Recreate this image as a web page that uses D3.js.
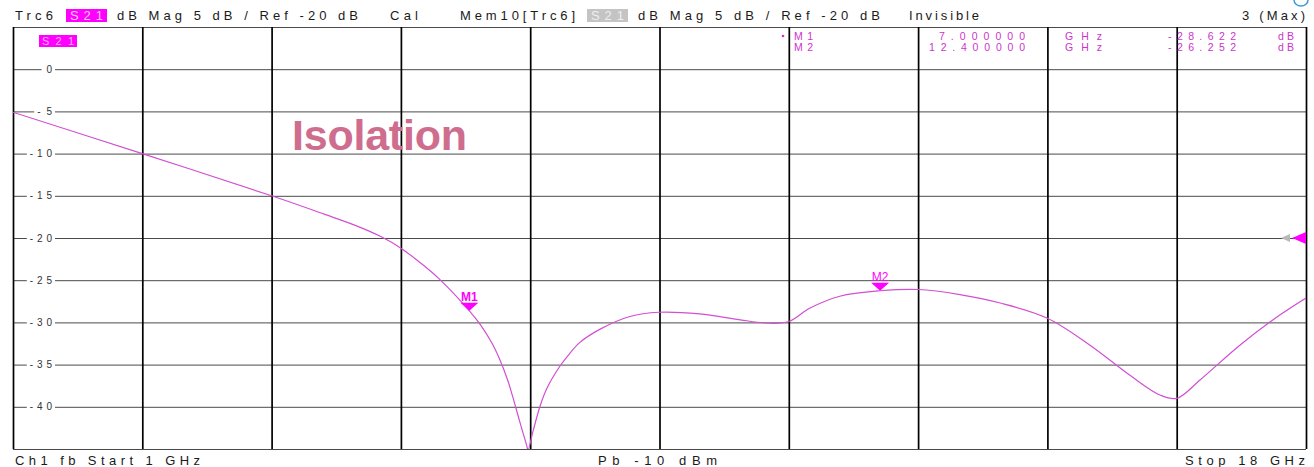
<!DOCTYPE html>
<html>
<head>
<meta charset="utf-8">
<script src="https://cdn.jsdelivr.net/npm/d3@7"></script>
<style>
  body { margin: 0; background: #fff; }
  svg { display: block; font-family: "Liberation Sans", Arial, sans-serif; }
</style>
</head>
<body>
<script>
// trace S21, frequency in GHz, magnitude in dB
const freqs = [1.0, 2.7, 4.4, 5.1, 5.5, 5.83, 6.1, 6.35, 6.61, 7.0, 7.14, 7.3, 7.4, 7.51, 7.57, 7.67, 7.76, 7.77,
  7.84, 7.93, 8.02, 8.19, 8.3, 8.45, 8.72, 9.11, 9.49, 10.03, 10.56, 10.95, 11.2, 11.48, 11.87, 12.4,
  12.9, 13.45, 13.98, 14.6, 15.16, 15.69, 16.08, 16.3, 16.61, 17.13, 17.66, 18.0];
const mags = [-5.1, -10.0, -15.0, -17.2, -18.5, -19.8, -21.2, -22.9, -24.9, -28.622, -30.2, -32.5, -34.4, -37.0, -38.8, -42.0, -44.8, -45.2,
  -42.8, -39.9, -37.8, -35.2, -33.9, -32.4, -30.8, -29.3, -28.8, -29.0, -29.7, -30.1, -29.9, -28.3, -26.9, -26.252,
  -26.1, -26.7, -27.7, -29.5, -32.7, -36.3, -38.6, -39.0, -36.8, -32.7, -29.1, -27.1];
const yTicks = [0, -5, -10, -15, -20, -25, -30, -35, -40];
const markerNames = ["M1", "M2"];
const markerFreq = [7.0, 12.4];
const markerMag = [-28.622, -26.252];
const refLevel = -20;

const W = 1314, H = 467;
const x = d3.scaleLinear().domain([1, 18]).range([13, 1306]);
const y = d3.scaleLinear().domain([-45, 5]).range([449, 27]);

const svg = d3.select("body").append("svg").attr("width", W).attr("height", H);

let txt = (g, px, py, s, len, opts = {}) => {
  const t = g.append("text").attr("x", px).attr("y", py).text(s)
    .attr("font-size", opts.size || 13).attr("fill", opts.fill || "#1a1a1a")
    .attr("text-anchor", opts.anchor || "start");
  if (len) t.attr("textLength", len).attr("lengthAdjust", "spacing");
  if (opts.weight) t.attr("font-weight", opts.weight);
  return t;
};

// header line
const head = svg.append("g");
txt(head, 15, 20, "Trc6", 38);
head.append("rect").attr("x", 66).attr("y", 9).attr("width", 41).attr("height", 13).attr("fill", "#ff00ff");
txt(head, 70, 20, "S21", 33, {fill: "#ffc8ff"});
txt(head, 117, 20, "dB Mag  5 dB /  Ref -20 dB", 241);
txt(head, 390, 20, "Cal", 28);
txt(head, 460, 20, "Mem10[Trc6]", 115);
head.append("rect").attr("x", 587).attr("y", 9).attr("width", 41).attr("height", 13).attr("fill", "#c4c4c4");
txt(head, 591, 20, "S21", 33, {fill: "#eeeeee"});
txt(head, 638, 20, "dB Mag  5 dB /  Ref -20 dB", 242);
txt(head, 909, 20, "Invisible", 70);
txt(head, 1242, 20, "3 (Max)", 63);
// little blue icon in the corner
svg.append("path").attr("d", "M1294,0 A7,6 0 0 0 1308,0").attr("fill", "none").attr("stroke", "#3a9ad9").attr("stroke-width", 1.5);

// grid
const grid = svg.append("g");
grid.append("g")
  .attr("transform", `translate(${x.range()[0]},0)`)
  .call(d3.axisLeft(y).tickValues(d3.range(-45, 6, 5)).tickSize(-(x.range()[1] - x.range()[0])).tickFormat(""))
  .call(g => g.select(".domain").remove())
  .call(g => g.selectAll("line").attr("stroke", "#4a4a4a").attr("stroke-width", 1));
grid.append("g")
  .attr("transform", `translate(0,${y.range()[0]})`)
  .call(d3.axisBottom(x).tickValues(d3.range(0, 11).map(i => 1 + i * 1.7)).tickSize(-(y.range()[0] - y.range()[1])).tickFormat(""))
  .call(g => g.select(".domain").remove())
  .call(g => g.selectAll("line").attr("stroke", "#000").attr("stroke-width", 1.7));

// y labels with white background breaking the grid line
const lab = svg.append("g");
yTicks.forEach(v => {
  const s = String(v);
  const w = s.length * 7.4;
  lab.append("rect").attr("x", 52 - w - 3).attr("y", y(v) - 3).attr("width", w + 6).attr("height", 6).attr("fill", "#fff");
  txt(lab, 52, y(v) + 3.5, s, w, {size: 10, anchor: "end", fill: "#333"});
});

// S21 label in plot
svg.append("rect").attr("x", 39).attr("y", 35).attr("width", 38).attr("height", 12).attr("fill", "#ff00ff");
txt(svg, 42, 45, "S21", 32, {size: 11, fill: "#ffb0ff"});

// Isolation title
txt(svg, 292, 150, "Isolation", 175, {size: 43, weight: "bold", fill: "#cf6d8e"});

// trace
svg.append("clipPath").attr("id", "clip").append("rect")
  .attr("x", 13).attr("y", 27).attr("width", 1293).attr("height", 422);
const line = d3.line().x((d, i) => x(freqs[i])).y(d => y(d)).curve(d3.curveCatmullRom.alpha(0.5));
svg.append("path").datum(mags).attr("d", line).attr("clip-path", "url(#clip)")
  .attr("fill", "none").attr("stroke", "#d24fd2").attr("stroke-width", 1.2);

// markers
markerNames.forEach((m, i) => {
  const mx = x(markerFreq[i]), my = y(markerMag[i]);
  svg.append("path").attr("d", `M${mx - 9},${my - 8} L${mx + 9},${my - 8} L${mx},${my} Z`).attr("fill", "#ff00ff");
  txt(svg, mx, my - 10, m, null, {size: 12, anchor: "middle", fill: "#ff00ff", weight: i === 0 ? "bold" : null});
});

// marker table
const tb = svg.append("g");
tb.append("circle").attr("cx", 783).attr("cy", 36).attr("r", 1.3).attr("fill", "#cc33cc");
markerNames.forEach((m, i) => {
  const by = 39.5 + i * 11;
  const c = {size: 10.5, fill: "#cc33cc"};
  txt(tb, 794, by, m, 19, c);
  txt(tb, 1025, by, markerFreq[i].toFixed(6), i === 0 ? 86 : 96, Object.assign({anchor: "end"}, c));
  txt(tb, 1065, by, "GHz", 37, c);
  txt(tb, 1236, by, markerMag[i].toFixed(3), 68, Object.assign({anchor: "end"}, c));
  txt(tb, 1278, by, "dB", 16, c);
});

// reference level arrows
const ry = y(refLevel);
svg.append("path").attr("d", `M1306,${ry - 6} L1306,${ry + 6} L1292,${ry} Z`).attr("fill", "#ff00ff");
svg.append("path").attr("d", `M1290,${ry - 4} L1290,${ry + 4} L1281,${ry} Z`).attr("fill", "#b8b8b8");

// footer
const foot = svg.append("g");
txt(foot, 15, 465, "Ch1  fb  Start  1 GHz", 185);
txt(foot, 598, 465, "Pb   -10 dBm", 119);
txt(foot, 1305, 465, "Stop  18 GHz", 120, {anchor: "end"});
</script>
</body>
</html>
